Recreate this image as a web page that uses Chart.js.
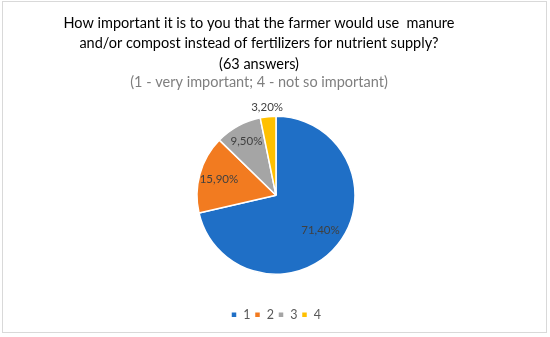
<!DOCTYPE html>
<html>
<head>
<meta charset="utf-8">
<script src="https://cdn.jsdelivr.net/npm/chart.js@4"></script>
<style>
  html, body { margin: 0; padding: 0; background: #fff; }
  #wrap { position: relative; width: 550px; height: 337px; }
  #frame {
    position: absolute; left: 2px; top: 1px; width: 545px; height: 332px;
    box-sizing: border-box; border: 1px solid #d9d9d9; pointer-events: none;
  }
</style>
</head>
<body>
<div id="wrap">
  <canvas id="chart" width="550" height="337"></canvas>
  <div id="frame"></div>
</div>
<script>
  'use strict';

  var categories = ['1', '2', '3', '4'];
  var shares = [71.4, 15.9, 9.5, 3.2];
  var titleLines = [
    'How important it is to you that the farmer would use  manure',
    'and/or compost instead of fertilizers for nutrient supply?',
    '(63 answers)'
  ];
  var subtitleText = '(1 - very important; 4 - not so important)';

  var COLORS = ['#1f6fc6', '#f27b20', '#a5a5a5', '#ffc000'];
  // how far out each value label sits, as a share of the radius
  var LABEL_POS = [0.72, 0.75, 0.78, 1.12];
  var FONT = 'Lato, "Noto Sans", sans-serif';

  function fmt(v) {
    return v.toFixed(2).replace('.', ',') + '%';
  }

  var headingPlugin = {
    id: 'heading',
    afterDraw: function (chart) {
      var ctx = chart.ctx;
      ctx.save();
      ctx.textAlign = 'center';
      ctx.textBaseline = 'alphabetic';
      ctx.font = '14.5px ' + FONT;
      ctx.fillStyle = '#000000';
      var baselines = [28, 48, 68.5];
      for (var i = 0; i < titleLines.length; i++) {
        ctx.fillText(titleLines[i], 259, baselines[i]);
      }
      ctx.fillStyle = '#7f7f7f';
      ctx.fillText(subtitleText, 259, 87);
      ctx.restore();
    }
  };

  var valueLabels = {
    id: 'valueLabels',
    afterDatasetsDraw: function (chart) {
      var ctx = chart.ctx;
      var meta = chart.getDatasetMeta(0);
      ctx.save();
      ctx.font = '11.5px ' + FONT;
      ctx.fillStyle = '#404040';
      ctx.textAlign = 'center';
      ctx.textBaseline = 'middle';
      for (var i = 0; i < meta.data.length; i++) {
        var p = meta.data[i].getProps(['x', 'y', 'startAngle', 'endAngle', 'outerRadius'], true);
        var mid = (p.startAngle + p.endAngle) / 2;
        var r = p.outerRadius * LABEL_POS[i];
        ctx.fillText(fmt(shares[i]), p.x + Math.cos(mid) * r, p.y + Math.sin(mid) * r);
      }
      ctx.restore();
    }
  };

  new Chart(document.getElementById('chart'), {
    type: 'pie',
    data: {
      labels: categories,
      datasets: [{
        data: shares,
        backgroundColor: COLORS,
        borderColor: '#ffffff',
        borderWidth: 1.5,
        radius: 79
      }]
    },
    options: {
      responsive: false,
      animation: false,
      layout: { padding: { top: 86, bottom: 6, left: 12, right: 10 } },
      plugins: {
        title: { display: false },
        tooltip: { enabled: false },
        legend: {
          position: 'bottom',
          labels: {
            boxWidth: 6,
            boxHeight: 6,
            padding: 4,
            color: '#595959',
            font: { family: FONT, size: 12.5 }
          }
        }
      }
    },
    plugins: [headingPlugin, valueLabels]
  });
</script>
</body>
</html>
